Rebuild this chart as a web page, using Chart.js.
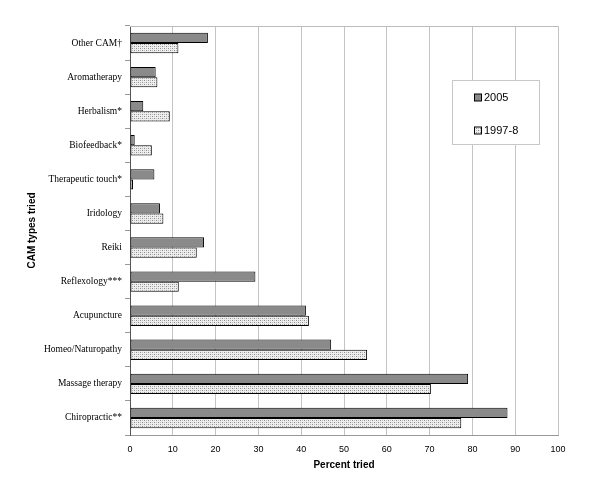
<!DOCTYPE html>
<html>
<head>
<meta charset="utf-8">
<script src="https://cdn.jsdelivr.net/npm/chart.js@4.4.0/dist/chart.umd.min.js"></script>
<style>
  html, body { margin: 0; padding: 0; background: #fff; }
  #wrap { width: 600px; height: 489px; }
</style>
</head>
<body>
<div id="wrap"><canvas id="chart"></canvas></div>
<script>
// CAM types, top to bottom as in the figure
const camTypes = [
    "Other CAM\u2020",
    "Aromatherapy",
    "Herbalism*",
    "Biofeedback*",
    "Therapeutic touch*",
    "Iridology",
    "Reiki",
    "Reflexology***",
    "Acupuncture",
    "Homeo/Naturopathy",
    "Massage therapy",
    "Chiropractic**"
];

// Percent tried in each survey
const tried2005 = [18.2, 6.0, 3.1, 1.1, 5.7, 7.0, 17.3, 29.3, 41.1, 47.0, 79.0, 88.2];
const tried1997 = [11.3, 6.4, 9.3, 5.1, 0.7, 7.8, 15.6, 11.4, 41.8, 55.4, 70.3, 77.4];

const xTicks = [0, 10, 20, 30, 40, 50, 60, 70, 80, 90, 100];

// dotted fill used for the 1997-8 bars
function makeDotPattern() {
    const c = document.createElement('canvas');
    c.width = 4;
    c.height = 4;
    const g = c.getContext('2d');
    g.fillStyle = '#eeeeee';
    g.fillRect(0, 0, 4, 4);
    g.fillStyle = '#8c8c8c';
    g.fillRect(0, 0, 1, 1);
    g.fillRect(2, 2, 1, 1);
    g.fillStyle = '#bdbdbd';
    g.fillRect(2, 0, 1, 1);
    g.fillRect(0, 2, 1, 1);
    return g.createPattern(c, 'repeat');
}

const dotFill = makeDotPattern();

// legend box drawn inside the plot, top right
const boxLegend = {
    id: 'boxLegend',
    afterDraw(chart) {
        const ctx = chart.ctx;
        const x = 452.5, y = 80.5, w = 87, h = 64;
        ctx.save();
        ctx.fillStyle = '#fff';
        ctx.fillRect(x, y, w, h);
        ctx.strokeStyle = '#c8c8c8';
        ctx.lineWidth = 1;
        ctx.strokeRect(x, y, w, h);
        ctx.font = '11px "Liberation Sans", Arial, sans-serif';
        ctx.textBaseline = 'middle';
        chart.data.datasets.forEach((ds, i) => {
            const sy = y + 17 + i * 33;
            ctx.fillStyle = ds.backgroundColor;
            ctx.fillRect(474.5, sy - 3.5, 7, 7);
            ctx.strokeStyle = '#000';
            ctx.strokeRect(474.5, sy - 3.5, 7, 7);
            ctx.fillStyle = '#000';
            ctx.fillText(ds.label, 484, sy);
        });
        ctx.restore();
    }
};

// top edge of the plot frame
const topBorder = {
    id: 'topBorder',
    afterDatasetsDraw(chart) {
        const a = chart.chartArea;
        const ctx = chart.ctx;
        ctx.save();
        ctx.strokeStyle = '#bbbbbb';
        ctx.lineWidth = 1;
        ctx.beginPath();
        ctx.moveTo(a.left, a.top + 0.5);
        ctx.lineTo(a.right, a.top + 0.5);
        ctx.stroke();
        ctx.restore();
    }
};

const ctx = document.getElementById('chart').getContext('2d');
new Chart(ctx, {
    type: 'bar',
    data: {
        labels: camTypes,
        datasets: [
            {
                label: '2005',
                data: tried2005,
                backgroundColor: '#8a8a8a',
                borderColor: '#000',
                borderWidth: 1,
                borderSkipped: false,
                categoryPercentage: 0.6,
                barPercentage: 1.0
            },
            {
                label: '1997-8',
                data: tried1997,
                backgroundColor: dotFill,
                borderColor: '#000',
                borderWidth: 1,
                borderSkipped: false,
                categoryPercentage: 0.6,
                barPercentage: 1.0
            }
        ]
    },
    options: {
        indexAxis: 'y',
        responsive: true,
        maintainAspectRatio: false,
        animation: false,
        layout: { padding: { top: 26, right: 42, left: 0, bottom: 0 } },
        plugins: {
            legend: { display: false },
            tooltip: { enabled: false }
        },
        scales: {
            x: {
                type: 'linear',
                min: 0,
                max: 100,
                afterBuildTicks: scale => {
                    scale.ticks = xTicks.map(v => ({ value: v }));
                },
                afterFit: scale => { scale.height = 54; },
                grid: { color: '#c4c4c4', drawTicks: false },
                border: { color: '#999' },
                ticks: {
                    color: '#000',
                    padding: 9,
                    font: { family: '"Liberation Sans", Arial, sans-serif', size: 9 }
                },
                title: {
                    display: true,
                    text: 'Percent tried',
                    color: '#000',
                    padding: { top: 0, bottom: 18 },
                    font: { family: '"Liberation Sans", Arial, sans-serif', size: 10, weight: 'bold' }
                }
            },
            y: {
                type: 'category',
                afterFit: scale => { scale.width = 130; },
                grid: {
                    offset: true,
                    drawOnChartArea: false,
                    tickLength: 5,
                    color: '#999'
                },
                border: { color: '#555' },
                ticks: {
                    color: '#000',
                    padding: 3,
                    font: { family: '"Liberation Serif", "Times New Roman", serif', size: 9.5 }
                },
                title: {
                    display: true,
                    text: 'CAM types tried',
                    color: '#000',
                    padding: { top: 26, bottom: 0 },
                    font: { family: '"Liberation Sans", Arial, sans-serif', size: 10, weight: 'bold' }
                }
            }
        }
    },
    plugins: [topBorder, boxLegend]
});
</script>
</body>
</html>
